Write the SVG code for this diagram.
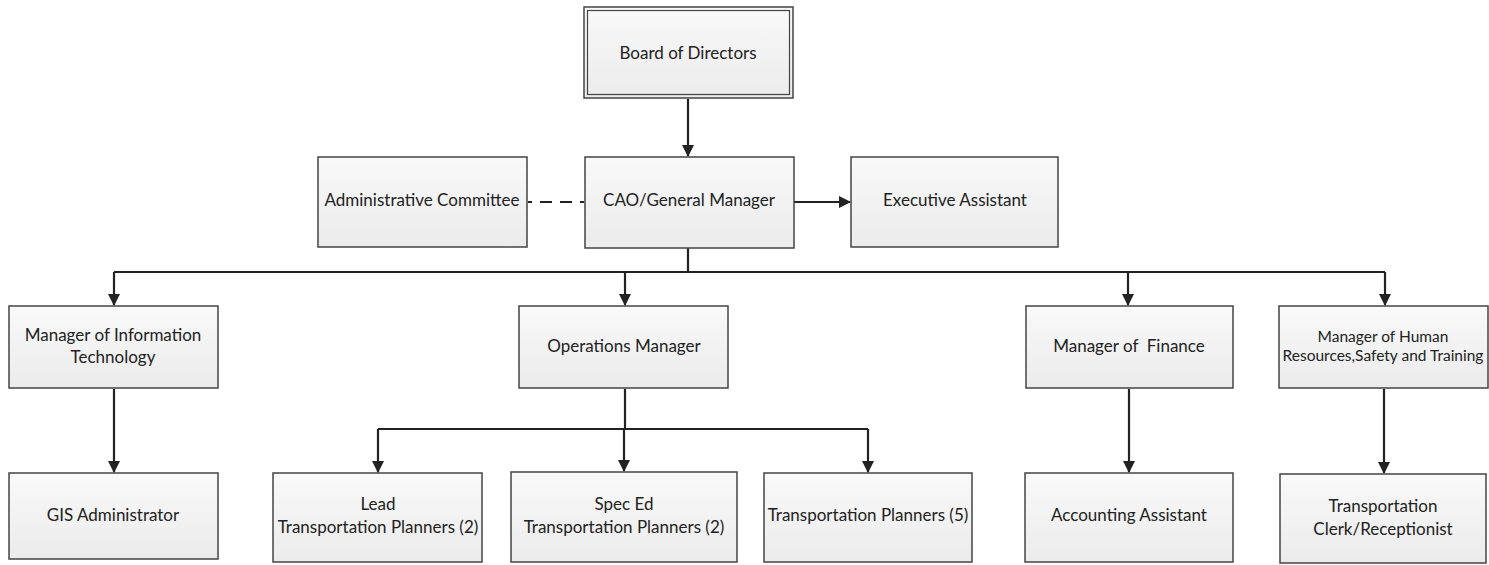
<svg xmlns="http://www.w3.org/2000/svg" width="1489" height="565" viewBox="0 0 1489 565">
<defs>
<linearGradient id="g" x1="0" y1="0" x2="0" y2="1">
<stop offset="0" stop-color="#f9f9f9"/>
<stop offset="1" stop-color="#ebebeb"/>
</linearGradient>
<marker id="ah" viewBox="0 0 12 12" refX="11" refY="6" markerWidth="12" markerHeight="12" markerUnits="userSpaceOnUse" orient="auto">
<path d="M0,0 L12,6 L0,12 z" fill="#222"/>
</marker>
</defs>
<style>
.box{fill:url(#g);stroke:#444;stroke-width:1.5}
.t{font-family:Lato,"Open Sans",sans-serif;font-size:17px;fill:#222;text-anchor:middle;dominant-baseline:middle;white-space:pre}
.s{font-size:15.5px}
.c{fill:none;stroke:#222;stroke-width:2.2}
.a{marker-end:url(#ah)}
</style>
<rect width="1489" height="565" fill="#fff"/>
<g id="connectors">
<path class="c a" d="M688,99 V156"/>
<path class="c" d="M528,202 H585" stroke-dasharray="4,8,12,8,12,8"/>
<path class="c a" d="M794,202 H850"/>
<path class="c" d="M688,248 V272 M114,272 H1385"/>
<path class="c a" d="M114,272 V305"/>
<path class="c a" d="M625,272 V305"/>
<path class="c a" d="M1128,272 V305"/>
<path class="c a" d="M1385,272 V305"/>
<path class="c a" d="M114,389 V472"/>
<path class="c" d="M625,389 V429 M378,429 H868"/>
<path class="c a" d="M378,429 V472"/>
<path class="c a" d="M624,429 V471"/>
<path class="c a" d="M868,429 V472"/>
<path class="c a" d="M1129,389 V472"/>
<path class="c a" d="M1384,389 V473"/>
</g>
<g id="board">
<rect x="584" y="7" width="209" height="91" fill="url(#g)" stroke="#444" stroke-width="1.5"/>
<rect x="587.5" y="10.5" width="202" height="84" fill="none" stroke="#444" stroke-width="1.2"/>
<text class="t" x="688" y="55">Board of Directors</text>
</g>
<g id="admin">
<rect class="box" x="318" y="157" width="209" height="90"/>
<text class="t" x="422" y="202">Administrative Committee</text>
</g>
<g id="cao">
<rect class="box" x="585" y="157" width="209" height="91"/>
<text class="t" x="689" y="202">CAO/General Manager</text>
</g>
<g id="exec">
<rect class="box" x="851" y="157" width="207" height="90"/>
<text class="t" x="955" y="202">Executive Assistant</text>
</g>
<g id="mit">
<rect class="box" x="9" y="306" width="209" height="82"/>
<text class="t" x="113" y="337">Manager of Information</text>
<text class="t" x="113" y="359">Technology</text>
</g>
<g id="ops">
<rect class="box" x="519" y="306" width="209" height="82"/>
<text class="t" x="624" y="348">Operations Manager</text>
</g>
<g id="fin">
<rect class="box" x="1026" y="306" width="207" height="82"/>
<text class="t" x="1129" y="348" xml:space="preserve">Manager of  Finance</text>
</g>
<g id="hr">
<rect class="box" x="1279" y="306" width="209" height="82"/>
<text class="t s" x="1383" y="338">Manager of Human</text>
<text class="t s" x="1383" y="357">Resources,Safety and Training</text>
</g>
<g id="gis">
<rect class="box" x="9" y="473" width="209" height="86"/>
<text class="t" x="113" y="517">GIS Administrator</text>
</g>
<g id="lead">
<rect class="box" x="273" y="473" width="209" height="89"/>
<text class="t" x="378" y="506">Lead</text>
<text class="t" x="378" y="529">Transportation Planners (2)</text>
</g>
<g id="spec">
<rect class="box" x="511" y="472" width="226" height="90"/>
<text class="t" x="624" y="506">Spec Ed</text>
<text class="t" x="624" y="529">Transportation Planners (2)</text>
</g>
<g id="tp5">
<rect class="box" x="764" y="473" width="208" height="89"/>
<text class="t" x="868" y="517">Transportation Planners (5)</text>
</g>
<g id="acct">
<rect class="box" x="1025" y="473" width="208" height="89"/>
<text class="t" x="1129" y="517">Accounting Assistant</text>
</g>
<g id="clerk">
<rect class="box" x="1280" y="474" width="206" height="89"/>
<text class="t" x="1383" y="508">Transportation</text>
<text class="t" x="1383" y="531">Clerk/Receptionist</text>
</g>
</svg>
